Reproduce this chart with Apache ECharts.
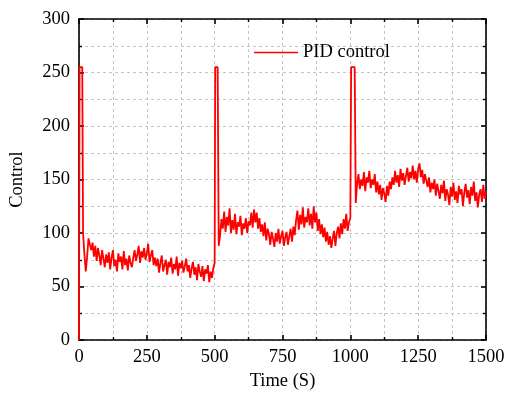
<!DOCTYPE html>
<html>
<head>
<meta charset="utf-8">
<script src="https://cdn.jsdelivr.net/npm/echarts@6/dist/echarts.min.js"></script>
<style>html,body{margin:0;padding:0;background:#fff}#c{width:505px;height:394px}</style>
</head>
<body>
<div id="c"></div>
<script>
// Sampling step of the recorded signal (seconds)
const timeStep = 5;
// Saturated start-up spikes (time in s, control value)
const spike1Times = [0, 2, 12];
const spike1Values = [0, 255, 255];
const spike2Times = [502, 511];
const spike2Values = [255, 255];
const spike3Times = [1003, 1016];
const spike3Values = [255, 255];
// Phase 1: t = 15 .. 500 s
const phase1Start = 15;
const phase1Values = [
  100, 80, 64, 78, 95,
  96, 84, 91, 78, 88, 74, 86, 79, 70, 84, 76, 68, 80,
  72, 82, 66, 77, 84, 69, 75, 64, 81, 73, 78, 66, 83, 70, 76, 65, 79, 72, 68, 77,
  84, 74, 80, 88, 72, 83, 77, 86, 75, 81, 90, 73, 79, 84, 70, 77,
  69, 76, 63, 72, 79, 64, 70, 75, 61, 73, 68, 77, 62, 71, 66, 78, 60, 72, 67, 74, 63, 69, 76, 64,
  70, 58, 67, 73, 61, 68, 56, 71, 64, 59, 69, 55, 66, 62, 70, 54, 64, 58, 67, 72
];
// Phase 2: t = 515 .. 1000 s
const phase2Start = 515;
const phase2Values = [
  88, 98, 113, 104, 120, 101, 115, 107, 123, 100,
  112, 103, 118, 99, 110, 106, 116, 98, 109, 104, 114, 100, 111, 107, 119, 105, 122, 110,
  119, 104, 114, 101, 108, 97, 110, 93, 104, 99, 89, 101, 95, 87, 100, 92, 104, 90, 97, 102, 88, 96,
  101, 89, 97, 104, 92, 106, 98, 112, 121, 103, 117, 108, 124, 105, 115, 110, 123, 107, 118, 104,
  125, 110, 119, 102, 113, 99, 108, 96, 105, 92, 101, 89, 97, 86, 95, 102, 88, 100, 106, 95,
  109, 99, 113, 104, 118, 102, 110, 114
];
// Phase 3: t = 1020 .. 1500 s
const phase3Start = 1020;
const phase3Values = [
  128, 146, 155, 141, 150, 144, 157, 139, 152, 147, 158, 142, 150, 145, 155, 138, 148,
  136, 145, 131, 142, 137, 129, 144, 135, 148, 141,
  152, 145, 158, 147, 154, 143, 160, 149, 156, 145, 153, 161, 148, 157, 151, 163, 150, 158, 147, 160,
  165, 152, 159, 146, 155, 149,
  143, 152, 138, 147, 141, 150, 135, 146, 139, 132, 145, 137, 149, 130, 141, 136, 126, 143, 134, 147,
  131, 139, 128, 144, 136, 141, 125, 138, 146, 133, 140, 127, 143, 135, 148, 130, 138, 124, 136, 141,
  129, 145, 132, 139
];
const xTicks = [0, 250, 500, 750, 1000, 1250, 1500];
const yTicks = [0, 50, 100, 150, 200, 250, 300];
const seriesName = 'PID control';
const xName = 'Time (S)';
const yName = 'Control';

function zipPairs(ts, vs) { return ts.map((t, i) => [t, vs[i]]); }
function toPairs(start, vals) { return vals.map((v, i) => [start + i * timeStep, v]); }
const data = [].concat(
  zipPairs(spike1Times, spike1Values),
  toPairs(phase1Start, phase1Values),
  zipPairs(spike2Times, spike2Values),
  toPairs(phase2Start, phase2Values),
  zipPairs(spike3Times, spike3Values),
  toPairs(phase3Start, phase3Values)
);

const FONT = '"Liberation Serif", "Times New Roman", serif';
const FS = 18.5;
const gridLine = { show: true, lineStyle: { color: '#c4c4c4', type: [3, 3], width: 1 } };
const axisLine = { show: true, onZero: false, lineStyle: { color: '#000', width: 1.6 } };
const tick = { show: true, inside: true, length: 5, lineStyle: { color: '#000', width: 1.6 } };
const minorTick = { show: true, splitNumber: 2, length: 3, lineStyle: { color: '#000', width: 1.4 } };
const plain = v => String(v);

const chart = echarts.init(document.getElementById('c'), null, { renderer: 'canvas' });
chart.setOption({
  animation: false,
  backgroundColor: '#fff',
  grid: { left: 79, right: 19, top: 19, bottom: 54, containLabel: false, outerBoundsMode: 'none' },
  legend: {
    data: [seriesName],
    left: 249, top: 38,
    icon: 'rect',
    itemWidth: 44, itemHeight: 1.6, itemGap: 5,
    textStyle: { fontFamily: FONT, fontSize: FS, color: '#000' }
  },
  xAxis: [{
    type: 'value', min: xTicks[0], max: xTicks[xTicks.length - 1], interval: 250,
    name: xName, nameLocation: 'middle', nameGap: 32,
    nameTextStyle: { fontFamily: FONT, fontSize: FS, color: '#000' },
    axisLine, axisTick: tick, minorTick,
    splitLine: gridLine, minorSplitLine: gridLine,
    axisLabel: { fontFamily: FONT, fontSize: FS, color: '#000', margin: 8, formatter: plain }
  }, {
    type: 'value', position: 'top', min: xTicks[0], max: xTicks[xTicks.length - 1], interval: 250,
    axisLine, axisTick: tick, minorTick,
    splitLine: { show: false }, axisLabel: { show: false }
  }],
  yAxis: [{
    type: 'value', min: yTicks[0], max: yTicks[yTicks.length - 1], interval: 50,
    name: yName, nameLocation: 'middle', nameGap: 52, nameRotate: 90,
    nameTextStyle: { fontFamily: FONT, fontSize: FS, color: '#000' },
    axisLine, axisTick: tick, minorTick,
    splitLine: gridLine, minorSplitLine: gridLine,
    axisLabel: { fontFamily: FONT, fontSize: FS, color: '#000', margin: 9, formatter: plain }
  }, {
    type: 'value', position: 'right', min: yTicks[0], max: yTicks[yTicks.length - 1], interval: 50,
    axisLine, axisTick: tick, minorTick,
    splitLine: { show: false }, axisLabel: { show: false }
  }],
  series: [{
    name: seriesName, type: 'line', data: data,
    xAxisIndex: 0, yAxisIndex: 0,
    symbol: 'none', showSymbol: false,
    lineStyle: { color: '#ff0000', width: 1.8 },
    itemStyle: { color: '#ff0000' }
  }]
});
</script>
</body>
</html>
